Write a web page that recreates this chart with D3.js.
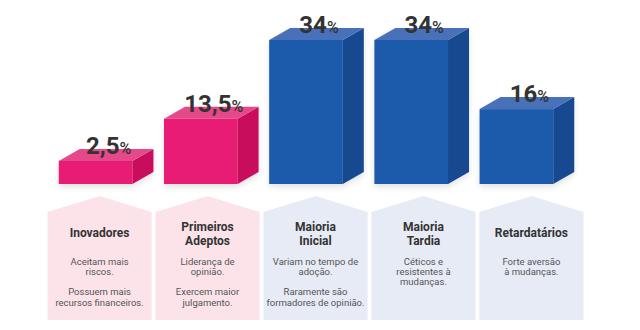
<!DOCTYPE html>
<html>
<head>
<meta charset="utf-8">
<script src="https://cdn.jsdelivr.net/npm/d3@7"></script>
<style>
  html, body { margin: 0; padding: 0; background: #ffffff; }
  svg { display: block; font-family: Roboto, "Noto Sans", sans-serif; }
</style>
</head>
<body>
<svg id="chart" width="640" height="330"></svg>
<script>
// ---- data ----
const categories = ["Inovadores", "Primeiros Adeptos", "Maioria Inicial", "Maioria Tardia", "Retardatários"];
const values = [2.5, 13.5, 34, 34, 16];
const valueLabels = ["2,5", "13,5", "34", "34", "16"];
const titleLines = [
  ["Inovadores"],
  ["Primeiros", "Adeptos"],
  ["Maioria", "Inicial"],
  ["Maioria", "Tardia"],
  ["Retardatários"]
];
const descLines = [
  ["Aceitam mais", "riscos.", "", "Possuem mais", "recursos financeiros."],
  ["Liderança de", "opinião.", "", "Exercem maior", "julgamento."],
  ["Variam no tempo de", "adoção.", "", "Raramente são", "formadores de opinião."],
  ["Céticos e", "resistentes à", "mudanças."],
  ["Forte aversão", "à mudanças."]
];
const groups = ["pink", "pink", "blue", "blue", "blue"];

// ---- styles ----
const palette = {
  pink: { front: "#e91e74", side: "#c90f5d", top: "#e5498a", card: "#fce3ea" },
  blue: { front: "#1c5aab", side: "#17498f", top: "#4a71b9", card: "#e7ebf5" }
};
const depthX = 21, depthY = 12;

const svg = d3.select("#chart");

// scales
const barX = d3.scaleBand().domain(categories).range([43, 569]).paddingInner(0.3).paddingOuter(0.15);
const cardX = d3.scaleBand().domain(categories).range([47.5, 583.5]).paddingInner(0.035).paddingOuter(0.0);
const y = d3.scaleLinear().domain([-3.5, 34]).range([184, 40]);

// soft shadow filter
const defs = svg.append("defs");
const f = defs.append("filter").attr("id", "shadow").attr("x", "-20%").attr("y", "-20%").attr("width", "140%").attr("height", "160%");
f.append("feGaussianBlur").attr("in", "SourceAlpha").attr("stdDeviation", 3);
f.append("feOffset").attr("dx", 0).attr("dy", 3).attr("result", "b");
f.append("feComponentTransfer").append("feFuncA").attr("type", "linear").attr("slope", 0.12);
const m = f.append("feMerge");
m.append("feMergeNode");
m.append("feMergeNode").attr("in", "SourceGraphic");

// bars
const bw = barX.bandwidth();
const bars = svg.append("g").selectAll("g").data(categories).join("g")
  .attr("filter", "url(#shadow)");
bars.each(function (c, i) {
  const g = d3.select(this);
  const x0 = barX(c), x1 = x0 + bw;
  const yt = y(values[i]), yb = y.range()[0];
  const col = palette[groups[i]];
  g.append("rect").attr("x", x0).attr("y", yt).attr("width", bw).attr("height", yb - yt).attr("fill", col.front);
  g.append("path").attr("d", `M${x1},${yt} L${x1 + depthX},${yt - depthY} L${x1 + depthX},${yb - depthY} L${x1},${yb} Z`).attr("fill", col.side);
  g.append("path").attr("d", `M${x0},${yt} L${x0 + depthX},${yt - depthY} L${x1 + depthX},${yt - depthY} L${x1},${yt} Z`).attr("fill", col.top);
});

// value labels
svg.append("g").selectAll("text").data(categories).join("text")
  .attr("x", (c) => barX(c) + bw / 2 + 13)
  .attr("y", (c, i) => y(values[i]) - 7)
  .attr("text-anchor", "middle")
  .attr("fill", "#333333")
  .attr("font-weight", 700)
  .attr("font-size", 24)
  .each(function (c, i) {
    const t = d3.select(this);
    t.append("tspan").text(valueLabels[i]);
    t.append("tspan").attr("font-size", 16).attr("font-weight", 500).text("%");
  });

// cards
const cw = cardX.bandwidth();
const cardTop = 196, cardShoulder = 212, cardBottom = 320;
const cards = svg.append("g").selectAll("g").data(categories).join("g");
cards.each(function (c, i) {
  const g = d3.select(this);
  const x0 = cardX(c), x1 = x0 + cw, xm = x0 + cw / 2;
  g.append("path")
    .attr("d", `M${x0},${cardShoulder} L${xm},${cardTop} L${x1},${cardShoulder} L${x1},${cardBottom} L${x0},${cardBottom} Z`)
    .attr("fill", palette[groups[i]].card);
  const tl = titleLines[i];
  const title = g.append("text").attr("x", xm).attr("y", tl.length === 1 ? 237 : 230.5)
    .attr("text-anchor", "middle").attr("font-size", 12).attr("font-weight", 700).attr("fill", "#333333");
  tl.forEach((line, k) => {
    title.append("tspan").attr("x", xm).attr("dy", k === 0 ? 0 : 14.3).text(line);
  });
  const desc = g.append("text").attr("x", xm).attr("y", 264.5).attr("text-anchor", "middle")
    .attr("font-size", 9.5).attr("fill", "#555555");
  let gap = 0;
  descLines[i].forEach((line, k) => {
    if (!line) { gap += 10.3; return; }
    desc.append("tspan").attr("x", xm).attr("dy", k === 0 ? 0 : 10.3 + gap).text(line);
    gap = 0;
  });
});
</script>
</body>
</html>
